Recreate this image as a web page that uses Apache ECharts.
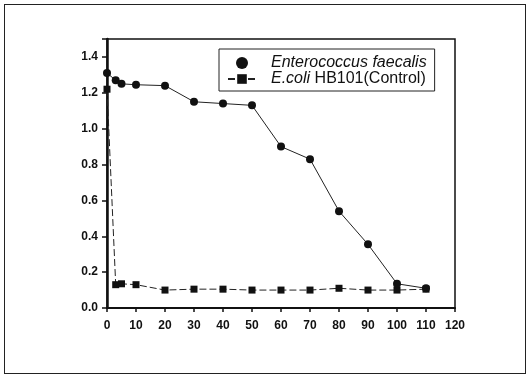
<!DOCTYPE html>
<html>
<head>
<meta charset="utf-8">
<script src="https://cdn.jsdelivr.net/npm/echarts@6/dist/echarts.min.js"></script>
<style>
  html, body { margin: 0; padding: 0; background: #fff; }
  #frame { position: absolute; left: 4px; top: 4px; width: 520px; height: 368px; border: 1px solid #222; }
  #main { position: absolute; left: 0; top: 0; width: 529px; height: 383px; }
</style>
</head>
<body>
<div id="frame"></div>
<div id="main"></div>
<script>
// time points and readings
var xEnt = [0, 3, 5, 10, 20, 30, 40, 50, 60, 70, 80, 90, 100, 110];
var yEnt = [1.31, 1.27, 1.25, 1.245, 1.24, 1.15, 1.14, 1.13, 0.90, 0.83, 0.54, 0.355, 0.135, 0.11];
var xCol = [0, 3, 5, 10, 20, 30, 40, 50, 60, 70, 80, 90, 100, 110];
var yCol = [1.22, 0.13, 0.135, 0.13, 0.10, 0.105, 0.105, 0.10, 0.10, 0.10, 0.11, 0.10, 0.10, 0.105];
var yTicks = [0, 0.2, 0.4, 0.6, 0.8, 1.0, 1.2, 1.4];

function pairs(xs, ys) {
  return xs.map(function (x, i) { return [x, ys[i]]; });
}

var myChart = echarts.init(document.getElementById('main'), null, { renderer: 'canvas' });
var fam = 'Liberation Sans, Arial, sans-serif';

var option = {
  animation: false,
  grid: {
    left: 107, right: 74, top: 39, bottom: 75,
    show: true, borderColor: '#111', borderWidth: 1.5
  },
  legend: {
    orient: 'vertical',
    left: 219, top: 49,
    padding: [6, 8, 4, 8],
    itemGap: 0,
    itemWidth: 28,
    itemHeight: 12,
    borderColor: '#222',
    borderWidth: 1,
    data: [
      { name: 'Enterococcus faecalis', icon: 'circle' },
      { name: 'E.coli HB101(Control)' }
    ],
    formatter: function (name) {
      if (name === 'Enterococcus faecalis') return '{it|Enterococcus faecalis}';
      return '{it|E.coli} {n|HB101(Control)}';
    },
    textStyle: {
      color: '#111',
      fontFamily: fam,
      fontSize: 16,
      rich: {
        it: { fontStyle: 'italic', fontSize: 16, fontFamily: fam, color: '#111' },
        n: { fontSize: 16, fontFamily: fam, color: '#111' }
      },
      padding: [0, 0, 0, 10]
    }
  },
  xAxis: {
    type: 'value',
    min: 0, max: 120, interval: 10,
    axisLine: { onZero: false, lineStyle: { color: '#111', width: 2 } },
    axisTick: { show: true, length: 4, lineStyle: { color: '#111', width: 1.5 } },
    splitLine: { show: false },
    axisLabel: {
      color: '#111', fontSize: 12, fontWeight: 'bold', fontFamily: fam, margin: 12
    }
  },
  yAxis: {
    type: 'value',
    min: 0, max: 1.5, interval: 0.2,
    axisLine: { show: true, onZero: false, lineStyle: { color: '#111', width: 2.5 } },
    axisTick: { show: true, length: 5, lineStyle: { color: '#111', width: 1.5 } },
    splitLine: { show: false },
    axisLabel: {
      color: '#111', fontSize: 12, fontWeight: 'bold', fontFamily: fam, margin: 9,
      formatter: function (v) {
        for (var i = 0; i < yTicks.length; i++) {
          if (Math.abs(yTicks[i] - v) < 1e-6) return yTicks[i].toFixed(1);
        }
        return '';
      }
    }
  },
  series: [
    {
      name: 'Enterococcus faecalis',
      type: 'line',
      data: pairs(xEnt, yEnt),
      symbol: 'circle',
      symbolSize: 8,
      itemStyle: { color: '#111' },
      lineStyle: { color: '#222', width: 1 },
      z: 3
    },
    {
      name: 'E.coli HB101(Control)',
      type: 'line',
      data: pairs(xCol, yCol),
      symbol: 'rect',
      symbolSize: 7,
      itemStyle: { color: '#111' },
      lineStyle: { color: '#222', width: 1, type: [7, 3] },
      z: 2
    }
  ]
};

myChart.setOption(option);
</script>
</body>
</html>
